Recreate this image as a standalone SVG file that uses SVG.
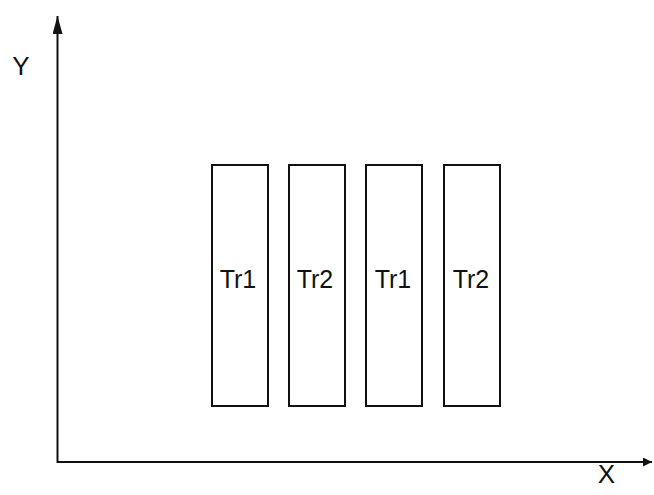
<svg xmlns="http://www.w3.org/2000/svg" width="654" height="495" viewBox="0 0 654 495">
<style>
.box{fill:none;stroke:#111;stroke-width:2}
.ax{stroke:#111;stroke-width:2;fill:none}
.lbl{font-family:"Liberation Sans",Arial,sans-serif;font-size:25px;fill:#111;text-anchor:middle}
.axl{font-family:"Liberation Sans",Arial,sans-serif;font-size:26px;fill:#111;text-anchor:middle}
</style>
<defs>
<marker id="arr" viewBox="0 0 10 10" refX="10" refY="5" markerWidth="9" markerHeight="9" markerUnits="userSpaceOnUse" orient="auto">
<path d="M0,0 L10,5 L0,10 Z" fill="#111"/>
</marker>
<marker id="arrY" viewBox="0 0 10 10" refX="10" refY="5" markerWidth="18" markerHeight="10" markerUnits="userSpaceOnUse" orient="auto" preserveAspectRatio="none">
<path d="M0,0 L10,5 L0,10 Z" fill="#111"/>
</marker>
</defs>
<rect width="654" height="495" fill="#fff"/>
<g id="connectors">
<line class="ax" x1="57.5" y1="463" x2="57.5" y2="16" marker-end="url(#arrY)"/>
<line class="ax" x1="57" y1="462" x2="652" y2="462" marker-end="url(#arr)"/>
</g>
<g id="axis-y"><text class="axl" x="21" y="75">Y</text></g>
<g id="axis-x"><text class="axl" x="606.5" y="483">X</text></g>
<g id="tr1a"><rect class="box" x="212" y="165" width="56" height="241"/><text class="lbl" x="238" y="288">Tr1</text></g>
<g id="tr2a"><rect class="box" x="289" y="165" width="56" height="241"/><text class="lbl" x="315" y="288">Tr2</text></g>
<g id="tr1b"><rect class="box" x="366" y="165" width="56" height="241"/><text class="lbl" x="393" y="288">Tr1</text></g>
<g id="tr2b"><rect class="box" x="444" y="165" width="56" height="241"/><text class="lbl" x="471" y="288">Tr2</text></g>
</svg>
